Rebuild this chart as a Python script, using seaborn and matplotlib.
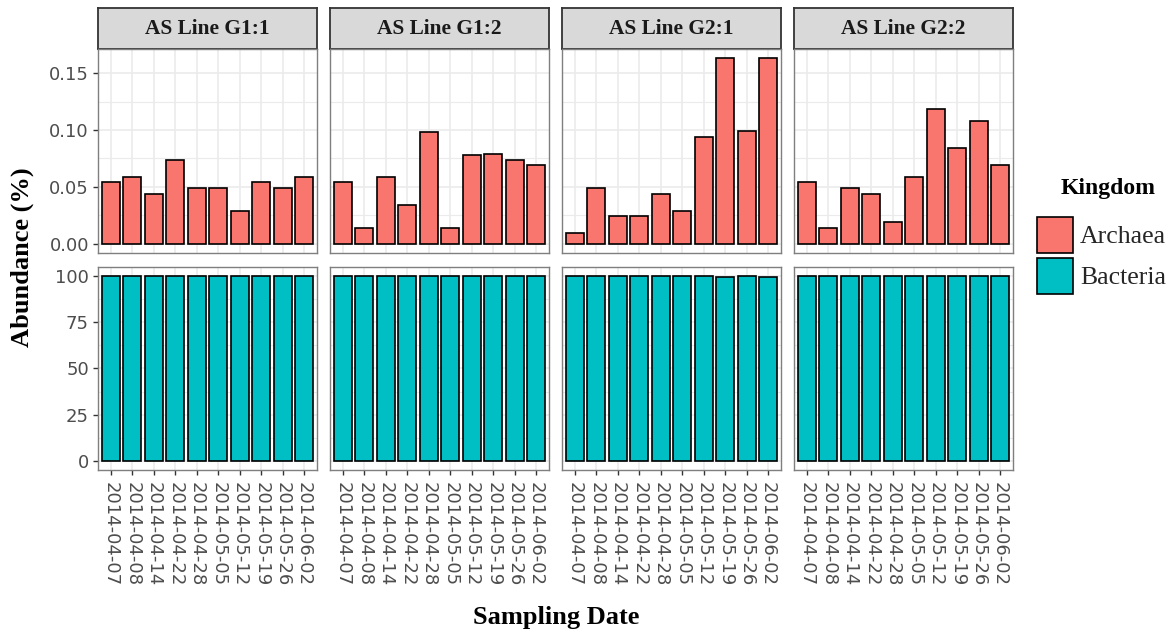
import matplotlib
matplotlib.use("Agg")
import matplotlib.pyplot as plt
from matplotlib.patches import Patch
from matplotlib.ticker import FixedLocator
import seaborn as sns
import pandas as pd

# ---- data -------------------------------------------------------------
dates = ["2014-04-07", "2014-04-08", "2014-04-14", "2014-04-22", "2014-04-28",
         "2014-05-05", "2014-05-12", "2014-05-19", "2014-05-26", "2014-06-02"]
lines = ["AS Line G1:1", "AS Line G1:2", "AS Line G2:1", "AS Line G2:2"]
kingdoms = ["Archaea", "Bacteria"]

archaea_g11 = [0.054, 0.059, 0.044, 0.074, 0.049, 0.049, 0.029, 0.054, 0.049, 0.059]
archaea_g12 = [0.054, 0.014, 0.059, 0.034, 0.098, 0.014, 0.078, 0.079, 0.074, 0.069]
archaea_g21 = [0.009, 0.049, 0.024, 0.024, 0.044, 0.029, 0.094, 0.163, 0.099, 0.163]
archaea_g22 = [0.054, 0.014, 0.049, 0.044, 0.019, 0.059, 0.118, 0.084, 0.108, 0.069]

bacteria_g11 = [99.946, 99.941, 99.956, 99.926, 99.951, 99.951, 99.971, 99.946, 99.951, 99.941]
bacteria_g12 = [99.946, 99.986, 99.941, 99.966, 99.902, 99.986, 99.922, 99.921, 99.926, 99.931]
bacteria_g21 = [99.991, 99.951, 99.976, 99.976, 99.956, 99.971, 99.906, 99.837, 99.901, 99.837]
bacteria_g22 = [99.946, 99.986, 99.951, 99.956, 99.981, 99.941, 99.882, 99.916, 99.892, 99.931]

archaea = [archaea_g11, archaea_g12, archaea_g21, archaea_g22]
bacteria = [bacteria_g11, bacteria_g12, bacteria_g21, bacteria_g22]

rows = []
for line, arc, bac in zip(lines, archaea, bacteria):
    for d, a, b in zip(dates, arc, bac):
        rows.append({"line": line, "date": d, "kingdom": "Archaea", "abundance": a})
        rows.append({"line": line, "date": d, "kingdom": "Bacteria", "abundance": b})
df = pd.DataFrame(rows)

palette = {"Archaea": "#F8766D", "Bacteria": "#00BFC4"}
y_ticks = {"Archaea": [0.0, 0.05, 0.10, 0.15], "Bacteria": [0, 25, 50, 75, 100]}
y_minor = {"Archaea": [0.025, 0.075, 0.125], "Bacteria": [12.5, 37.5, 62.5, 87.5]}
y_fmt = {"Archaea": "{:.2f}", "Bacteria": "{:.0f}"}

# ---- figure -----------------------------------------------------------
sns.set_theme(style="white")
plt.rcParams["font.family"] = ["DejaVu Sans"]
SERIF = "Liberation Serif"
BAR_LW = 1.2

W, H = 1172, 629
fig = plt.figure(figsize=(W / 100, H / 100), dpi=100)

def box(x0, y0, x1, y1):
    """Pixel box (top-left origin) to figure-fraction rect."""
    return [x0 / W, 1 - y1 / H, (x1 - x0) / W, (y1 - y0) / H]

panel_left = [98, 330, 562, 794]
panel_w = 219
row_y = {"Archaea": (49, 253), "Bacteria": (267, 470)}
strip_y = (8, 49)

for ci, line in enumerate(lines):
    x0 = panel_left[ci]
    x1 = x0 + panel_w

    # facet strip
    sax = fig.add_axes(box(x0, strip_y[0], x1, strip_y[1]))
    sax.set_facecolor("#D9D9D9")
    sax.set_xticks([])
    sax.set_yticks([])
    for sp in sax.spines.values():
        sp.set_color("#333333")
        sp.set_linewidth(1.3)
    sax.text(0.5, 0.5, line, ha="center", va="center", transform=sax.transAxes,
             family=SERIF, weight="bold", size=15.4, color="#1A1A1A")

    for ri, kd in enumerate(kingdoms):
        y0, y1 = row_y[kd]
        ax = fig.add_axes(box(x0, y0, x1, y1))
        sub = df[(df["line"] == line) & (df["kingdom"] == kd)]
        sns.barplot(data=sub, x="date", y="abundance", order=dates,
                    color=palette[kd], saturation=1, edgecolor="black",
                    linewidth=BAR_LW, width=0.85, errorbar=None, ax=ax)

        ymax = df.loc[df["kingdom"] == kd, "abundance"].max()
        ax.set_ylim(-0.05 * ymax, 1.05 * ymax)
        ax.set_xlim(-0.6, len(dates) - 0.4)
        ax.set_xlabel("")
        ax.set_ylabel("")
        ax.set_facecolor("white")
        ax.set_axisbelow(True)

        ax.set_yticks(y_ticks[kd])
        ax.set_yticklabels([y_fmt[kd].format(v) for v in y_ticks[kd]])
        ax.yaxis.set_minor_locator(FixedLocator(y_minor[kd]))
        ax.grid(True, which="major", axis="both", color="#EBEBEB", linewidth=1.2)
        ax.grid(True, which="minor", axis="y", color="#EBEBEB", linewidth=0.8)
        ax.tick_params(which="minor", length=0)

        for sp in ax.spines.values():
            sp.set_color("#7F7F7F")
            sp.set_linewidth(1.0)
            sp.set_visible(True)

        ax.tick_params(axis="y", which="major", length=3.5, width=1.0,
                       color="#333333", labelcolor="#4D4D4D", labelsize=13,
                       pad=3, left=(ci == 0), labelleft=(ci == 0))
        if kd == "Bacteria":
            ax.tick_params(axis="x", which="major", length=3.5, width=1.0,
                           color="#333333", labelcolor="#4D4D4D",
                           labelsize=13, pad=5, bottom=True, labelbottom=True)
            for lab in ax.get_xticklabels():
                lab.set_rotation(270)
                lab.set_ha("center")
                lab.set_va("top")
        else:
            ax.tick_params(axis="x", which="major", length=0,
                           bottom=False, labelbottom=False)

# axis titles
fig.text(22 / W, 1 - 257 / H, "Abundance (%)", rotation=90, ha="center",
         va="center", family=SERIF, weight="bold", size=19, color="black")
fig.text(556 / W, 1 - 624 / H, "Sampling Date", ha="center", va="baseline",
         family=SERIF, weight="bold", size=19, color="black")

# legend
fig.text(1108 / W, 1 - 194 / H, "Kingdom", ha="center", va="baseline",
         family=SERIF, weight="bold", size=17, color="black")
handles = [Patch(facecolor=palette[k], edgecolor="black", linewidth=BAR_LW, label=k)
           for k in kingdoms]
fig.legend(handles=handles, loc="upper left",
           bbox_to_anchor=(1037 / W, 1 - 217 / H), frameon=False,
           prop={"family": SERIF, "size": 18.5},
           handlelength=1.4, handleheight=1.78, labelspacing=0.2,
           handletextpad=0.27, borderpad=0, borderaxespad=0)

fig.savefig("out.png", dpi=100, facecolor="white")
